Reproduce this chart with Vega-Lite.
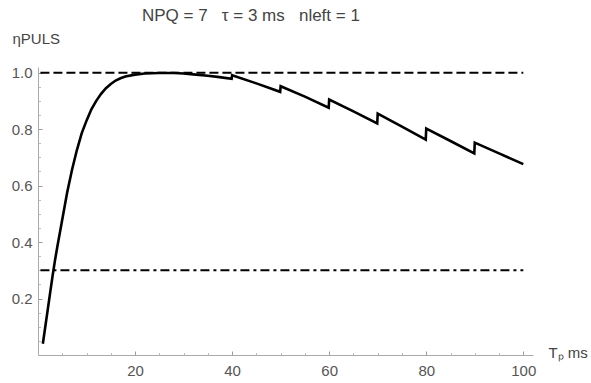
{
  "$schema": "https://vega.github.io/schema/vega-lite/v6.json",
  "width": 495,
  "height": 288,
  "autosize": "none",
  "padding": {"left": 38, "top": 67, "right": 58, "bottom": 28},
  "background": "white",
  "config": {"view": {"stroke": null}, "font": "Liberation Sans"},
  "title": {"text": "NPQ = 7\u00a0\u00a0 τ = 3 ms\u00a0\u00a0 nleft = 1", "anchor": "start", "frame": "group", "dx": 104, "offset": 6, "fontSize": 17, "fontWeight": "normal", "color": "#444"},
  "resolve": {"scale": {"x": "independent", "y": "independent"}, "axis": {"x": "independent", "y": "independent"}},
  "layer": [
    {
      "data": {"values": [
        {"t": 1, "eta": 0.04}, {"t": 1.5, "eta": 0.1}, {"t": 2, "eta": 0.16}, {"t": 2.5, "eta": 0.22},
        {"t": 3, "eta": 0.28}, {"t": 3.5, "eta": 0.335}, {"t": 4, "eta": 0.385}, {"t": 5, "eta": 0.48},
        {"t": 6, "eta": 0.575}, {"t": 7, "eta": 0.655}, {"t": 8, "eta": 0.725}, {"t": 9, "eta": 0.785},
        {"t": 10, "eta": 0.83}, {"t": 11, "eta": 0.87}, {"t": 12, "eta": 0.9}, {"t": 13, "eta": 0.925},
        {"t": 14, "eta": 0.945}, {"t": 15, "eta": 0.96}, {"t": 16, "eta": 0.972}, {"t": 17, "eta": 0.98},
        {"t": 18, "eta": 0.986}, {"t": 20, "eta": 0.993}, {"t": 22, "eta": 0.997}, {"t": 25, "eta": 0.999},
        {"t": 28, "eta": 0.999}, {"t": 30, "eta": 0.997}, {"t": 32, "eta": 0.994}, {"t": 35, "eta": 0.989},
        {"t": 37, "eta": 0.985}, {"t": 39.9, "eta": 0.978}, {"t": 40, "eta": 0.991}, {"t": 45, "eta": 0.962},
        {"t": 49.9, "eta": 0.932}, {"t": 50, "eta": 0.952}, {"t": 55, "eta": 0.915}, {"t": 59.9, "eta": 0.876},
        {"t": 60, "eta": 0.905}, {"t": 65, "eta": 0.863}, {"t": 69.9, "eta": 0.82}, {"t": 70, "eta": 0.855},
        {"t": 75, "eta": 0.809}, {"t": 79.9, "eta": 0.763}, {"t": 80, "eta": 0.802}, {"t": 85, "eta": 0.758},
        {"t": 89.9, "eta": 0.714}, {"t": 90, "eta": 0.752}, {"t": 95, "eta": 0.714}, {"t": 100, "eta": 0.676}
      ]},
      "mark": {"type": "line", "color": "black", "strokeWidth": 2.6, "clip": false},
      "encoding": {
        "x": {"field": "t", "type": "quantitative", "scale": {"domain": [0, 102], "nice": false, "zero": false},
          "axis": {"orient": "bottom", "values": [20, 40, 60, 80, 100], "grid": false, "tickSize": -4, "tickColor": "#999", "domainColor": "#aaa",
            "labelFontSize": 15, "labelColor": "#555", "labelPadding": 12, "labelFlush": false, "labelOverlap": false,
            "title": "Tₚ ms", "titleAngle": 0, "titleAlign": "left", "titleBaseline": "middle", "titleX": 510, "titleY": -3,
            "titleFontSize": 15, "titleFontWeight": "normal", "titleColor": "#444"}},
        "y": {"field": "eta", "type": "quantitative", "scale": {"domain": [0, 1.02], "nice": false, "zero": false},
          "axis": {"orient": "left", "values": [0.2, 0.4, 0.6, 0.8, 1.0], "format": ".1f", "grid": false, "tickSize": -4, "tickColor": "#999", "domainColor": "#aaa",
            "labelFontSize": 15, "labelColor": "#555", "labelPadding": 10, "labelFlush": false, "labelOverlap": false,
            "title": "ηPULS", "titleAngle": 0, "titleAlign": "left", "titleBaseline": "middle", "titleX": -26, "titleY": -29,
            "titleFontSize": 15, "titleFontWeight": "normal", "titleColor": "#444"}}
      }
    },
    {
      "data": {"values": [{"level": 1.0, "from": 0.5, "to": 100}]},
      "mark": {"type": "rule", "color": "black", "strokeWidth": 2, "strokeDash": [9, 4]},
      "encoding": {
        "x": {"field": "from", "type": "quantitative", "scale": {"domain": [0, 102], "nice": false, "zero": false},
          "axis": {"orient": "bottom", "values": [5, 10, 15, 25, 30, 35, 45, 50, 55, 65, 70, 75, 85, 90, 95], "grid": false, "labels": false, "domain": false, "tickSize": -2.5, "tickColor": "#bbb", "title": null}},
        "x2": {"field": "to"},
        "y": {"field": "level", "type": "quantitative", "scale": {"domain": [0, 1.02], "nice": false, "zero": false},
          "axis": {"orient": "left", "values": [0.05, 0.1, 0.15, 0.25, 0.3, 0.35, 0.45, 0.5, 0.55, 0.65, 0.7, 0.75, 0.85, 0.9, 0.95], "grid": false, "labels": false, "domain": false, "tickSize": -2.5, "tickColor": "#bbb", "title": null}}
      }
    },
    {
      "data": {"values": [{"level": 0.3, "from": 0.5, "to": 100}]},
      "mark": {"type": "rule", "color": "black", "strokeWidth": 2, "strokeDash": [9, 4, 3, 4]},
      "encoding": {
        "x": {"field": "from", "type": "quantitative", "scale": {"domain": [0, 102], "nice": false, "zero": false}, "axis": null},
        "x2": {"field": "to"},
        "y": {"field": "level", "type": "quantitative", "scale": {"domain": [0, 1.02], "nice": false, "zero": false}, "axis": null}
      }
    }
  ]
}
